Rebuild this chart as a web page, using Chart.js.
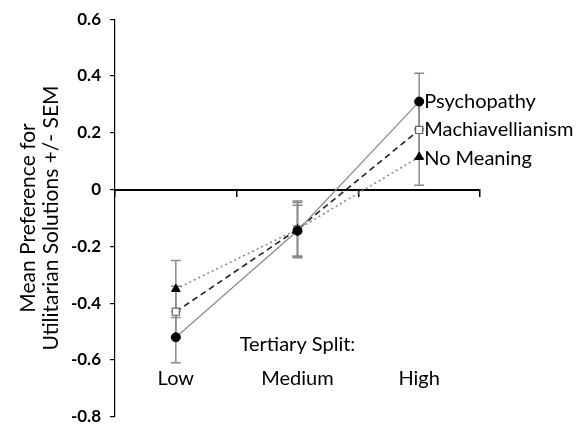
<!DOCTYPE html>
<html>
<head>
<meta charset="utf-8">
<script src="https://cdn.jsdelivr.net/npm/chart.js@4/dist/chart.umd.min.js"></script>
<style>
  html, body { margin: 0; padding: 0; background: #fff; }
  #wrap { width: 578px; height: 436px; }
</style>
</head>
<body>
<div id="wrap"><canvas id="chart"></canvas></div>
<script>
// ==== data ====
const categories = ['Low', 'Medium', 'High'];
const psychopathy = [-0.52, -0.145, 0.31];
const machiavellianism = [-0.43, -0.14, 0.21];
const noMeaning = [-0.35, -0.14, 0.115];
const psychopathyErr = [0.09, 0.09, 0.10];
const machiavellianismErr = [0.09, 0.095, 0.10];
const noMeaningErr = [0.10, 0.10, 0.10];
const yTicks = [-0.8, -0.6, -0.4, -0.2, 0, 0.2, 0.4, 0.6];
const seriesNames = ['Psychopathy', 'Machiavellianism', 'No Meaning'];
const axisTitle = ['Mean Preference for', 'Utilitarian Solutions +/- SEM'];
const splitTitle = 'Tertiary Split:';
const catLabelValue = -0.667;
const splitLabelValue = -0.545;

const FONT = 'Lato, "Open Sans", sans-serif';

// error bars under the markers
const errorBars = {
  id: 'errorBars',
  beforeDatasetsDraw(chart){
    const {ctx, scales:{x, y}} = chart;
    const errs = [psychopathyErr, machiavellianismErr, noMeaningErr];
    ctx.save();
    ctx.strokeStyle = '#8a8a8a';
    ctx.lineWidth = 1.5;
    chart.data.datasets.forEach((ds, di) => {
      ds.data.forEach((v, i) => {
        const px = x.getPixelForValue(i);
        const top = y.getPixelForValue(v + errs[di][i]);
        const bot = y.getPixelForValue(v - errs[di][i]);
        ctx.beginPath();
        ctx.moveTo(px, top); ctx.lineTo(px, bot);
        ctx.moveTo(px - 5, top); ctx.lineTo(px + 5, top);
        ctx.moveTo(px - 5, bot); ctx.lineTo(px + 5, bot);
        ctx.stroke();
      });
    });
    ctx.restore();
  }
};

// series names, category names and "Tertiary Split:"
const textLabels = {
  id: 'textLabels',
  afterDatasetsDraw(chart){
    const {ctx, scales:{x, y}} = chart;
    ctx.save();
    ctx.fillStyle = '#000';
    ctx.textBaseline = 'middle';
    ctx.font = '20px ' + FONT;
    ctx.textAlign = 'left';
    chart.data.datasets.forEach((ds, di) => {
      const last = ds.data.length - 1;
      ctx.fillText(seriesNames[di], x.getPixelForValue(last) + 5, y.getPixelForValue(ds.data[last]) + (di === 2 ? 2 : 0));
    });
    ctx.textAlign = 'center';
    categories.forEach((c, i) => ctx.fillText(c, x.getPixelForValue(i), y.getPixelForValue(catLabelValue)));
    ctx.fillText(splitTitle, x.getPixelForValue(1), y.getPixelForValue(splitLabelValue));
    ctx.restore();
  }
};

new Chart(document.getElementById('chart'), {
  type: 'line',
  data: {
    labels: categories,
    datasets: [
      { label: seriesNames[0], data: psychopathy, borderColor: '#8a8a8a', borderWidth: 1.2,
        pointStyle: 'circle', pointRadius: 4.5, pointBackgroundColor: '#000', pointBorderColor: '#000', pointBorderWidth: 1 },
      { label: seriesNames[1], data: machiavellianism, borderColor: '#222', borderWidth: 1.6, borderDash: [6, 4],
        pointStyle: 'rect', pointRadius: 5, pointBackgroundColor: '#fff', pointBorderColor: '#666', pointBorderWidth: 1.2 },
      { label: seriesNames[2], data: noMeaning, borderColor: '#8a8a8a', borderWidth: 1.6, borderDash: [2, 3],
        pointStyle: 'triangle', pointRadius: 5, pointBackgroundColor: '#000', pointBorderColor: '#000', pointBorderWidth: 1 }
    ]
  },
  options: {
    responsive: true,
    maintainAspectRatio: false,
    animation: false,
    layout: { padding: { left: 17, right: 98, top: 16, bottom: 9 } },
    plugins: { legend: { display: false }, tooltip: { enabled: false } },
    scales: {
      x: {
        position: { y: 0 },
        offset: true,
        ticks: { display: false },
        grid: { offset: true, drawOnChartArea: false, drawTicks: true, tickLength: 6, color: '#000', lineWidth: 1.5 },
        border: { color: '#000', width: 2 }
      },
      y: {
        min: -0.8, max: 0.6,
        afterFit(scale){ scale.width = 98; },
        afterBuildTicks(scale){ scale.ticks = yTicks.map(v => ({ value: v })); },
        ticks: {
          color: '#000', padding: 9,
          font: { family: FONT, size: 17, weight: 'bold' },
          callback: v => String(Number(v.toFixed(1)))
        },
        grid: { drawOnChartArea: false, tickLength: 5, color: '#000', lineWidth: 1.2 },
        border: { color: '#000', width: 1.2 },
        title: {
          display: true, text: axisTitle, color: '#000', padding: { top: 0, bottom: 4 },
          font: { family: FONT, size: 21, lineHeight: 1.1 }
        }
      }
    }
  },
  plugins: [errorBars, textLabels]
});
</script>
</body>
</html>
